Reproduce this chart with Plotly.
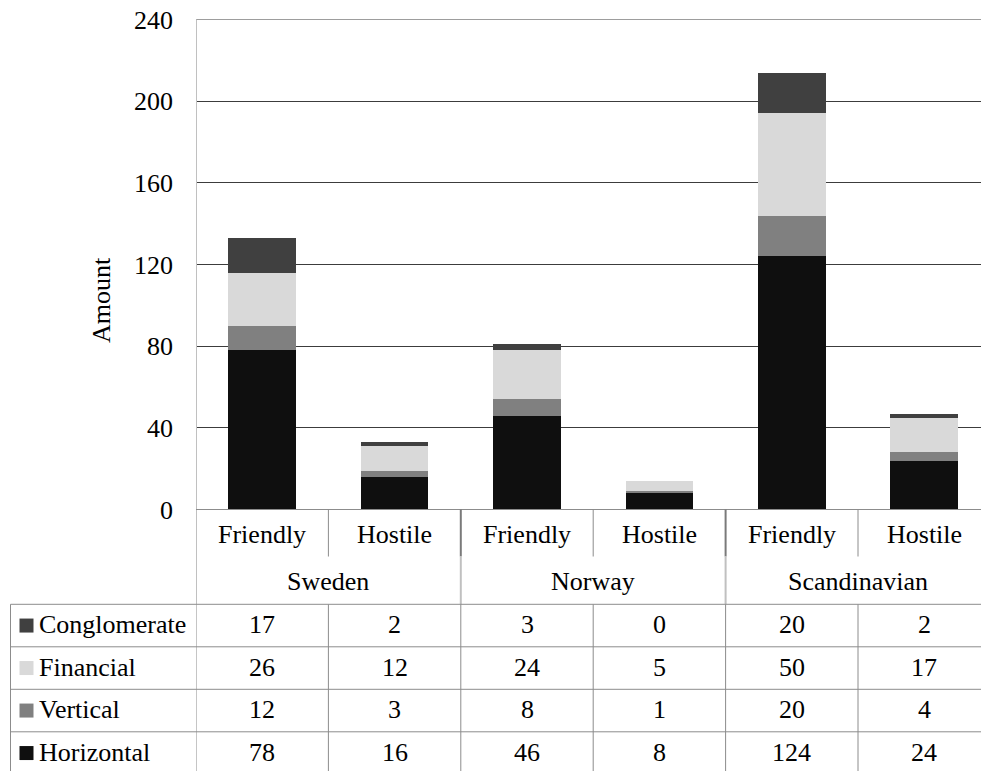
import plotly.graph_objects as go

# Deal outcomes by region and type of merger
groups = ["Sweden", "Norway", "Scandinavian"]
attitudes = ["Friendly", "Hostile", "Friendly", "Hostile", "Friendly", "Hostile"]

series_names = ["Horizontal", "Vertical", "Financial", "Conglomerate"]
horizontal = [78, 16, 46, 8, 124, 24]
vertical = [12, 3, 8, 1, 20, 4]
financial = [26, 12, 24, 5, 50, 17]
conglomerate = [17, 2, 3, 0, 20, 2]
series_values = [horizontal, vertical, financial, conglomerate]
series_colors = ["#0f0f0f", "#808080", "#d9d9d9", "#404040"]

y_ticks = [0, 40, 80, 120, 160, 200, 240]

W, H = 981, 771
FONT = "Liberation Serif"
FS = 26

# pixel layout helpers (paper coordinates span the whole page)
def py(p):
    return 1 - p / H

def px(p):
    return p / W

plot_left, plot_top, plot_bottom = 196, 19.5, 509.5
cat_step = 132.4
x_span = (W - plot_left) / cat_step

positions = list(range(len(attitudes)))

fig = go.Figure()
for name, vals, col in zip(series_names, series_values, series_colors):
    fig.add_trace(go.Bar(
        x=positions, y=vals, name=name, width=0.512,
        marker=dict(color=col, line=dict(width=0)),
        showlegend=False,
    ))

fig.update_layout(
    width=W, height=H, barmode="stack",
    margin=dict(l=0, r=0, t=0, b=0, autoexpand=False),
    paper_bgcolor="white", plot_bgcolor="white",
    xaxis=dict(domain=[px(plot_left), 1], range=[-0.5, -0.5 + x_span],
               showticklabels=False, showgrid=False, zeroline=False,
               showline=False, automargin=False, fixedrange=True),
    yaxis=dict(domain=[py(plot_bottom), py(plot_top)], range=[0, 240],
               tickvals=y_ticks, ticktext=[str(v) for v in y_ticks],
               showgrid=True, gridcolor="#3c3c3c", gridwidth=1,
               zeroline=False, showline=False, ticks="",
               ticklabelstandoff=22, automargin=False,
               tickfont=dict(family=FONT, size=FS, color="black")),
)

shapes = []
LIGHT = "#c0c0c0"
GRID = "#8c8c8c"

def hline(x0, x1, yp, color=GRID, w=1, xref="x"):
    shapes.append(dict(type="line", xref=xref, yref="paper", x0=x0, x1=x1,
                       y0=py(yp), y1=py(yp), line=dict(color=color, width=w)))

def vline(xv, y0p, y1p, color=GRID, w=1, xref="x"):
    shapes.append(dict(type="line", xref=xref, yref="paper", x0=xv, x1=xv,
                       y0=py(y0p), y1=py(y1p), line=dict(color=color, width=w)))

x_end = -0.5 + x_span + 0.2

# top gridline sits on the edge of the value range
shapes.append(dict(type="line", xref="x", yref="y", x0=-0.5, x1=x_end,
                   y0=y_ticks[-1], y1=y_ticks[-1],
                   line=dict(color="#3c3c3c", width=1), layer="below"))

# value axis line continues down through the header rows
vline(-0.5, plot_top, 604.3, color=LIGHT, w=2)
vline(-0.5, 604.3, H + 5, color=GRID, w=1)
# category axis line
hline(-0.5, x_end, plot_bottom, color=GRID, w=1)

header1_bottom, header2_bottom = 556.5, 604.3
row_h = 42.5
row_tops = [header2_bottom + i * row_h for i in range(4)]

# dividers between columns
for i in range(1, len(attitudes) + 1):
    xv = i - 0.5
    if i % 2 == 0:
        vline(xv, plot_bottom, header1_bottom, color="#7a7a7a", w=2)
        vline(xv, header1_bottom, header2_bottom, color=LIGHT, w=2)
        vline(xv, header2_bottom, H + 5, color=GRID, w=1)
    else:
        vline(xv, plot_bottom, header1_bottom, color=GRID, w=1)
        vline(xv, header2_bottom, H + 5, color=GRID, w=1)

# table row lines, including the label column
for t in row_tops:
    shapes.append(dict(type="line", xref="paper", yref="paper", x0=px(10.5), x1=1,
                       y0=py(t), y1=py(t), line=dict(color=GRID, width=1)))
shapes.append(dict(type="line", xref="paper", yref="paper", x0=px(10.5), x1=px(10.5),
                   y0=py(header2_bottom), y1=py(H + 5), line=dict(color=GRID, width=1)))

annotations = []

def text(x, yp, s, xref="x", xanchor="center", size=FS):
    annotations.append(dict(x=x, y=py(yp), xref=xref, yref="paper", text=s,
                            showarrow=False, xanchor=xanchor, yanchor="middle",
                            font=dict(family=FONT, size=size, color="black")))

# category labels
for i, a in enumerate(attitudes):
    text(i, 534, a)
for g, name in enumerate(groups):
    text(2 * g + 0.5, 581, name)

# table rows: top row is the last stacked series
table_order = list(range(len(series_names)))[::-1]
for r, si in enumerate(table_order):
    yc = row_tops[r] + row_h / 2 - 1
    shapes.append(dict(type="rect", xref="paper", yref="paper",
                       x0=px(19.5), x1=px(33.5), y0=py(yc - 6), y1=py(yc + 8),
                       fillcolor=series_colors[si], line=dict(width=0)))
    text(px(37), yc, series_names[si], xref="paper", xanchor="left")
    for c, v in enumerate(series_values[si]):
        text(c, yc, str(v))

# value axis title
annotations.append(dict(x=px(102), y=py(300), xref="paper", yref="paper",
                        text="Amount", showarrow=False, textangle=-90,
                        xanchor="center", yanchor="middle",
                        font=dict(family=FONT, size=FS, color="black")))

fig.update_layout(shapes=shapes, annotations=annotations)
fig.write_html("out.html")
